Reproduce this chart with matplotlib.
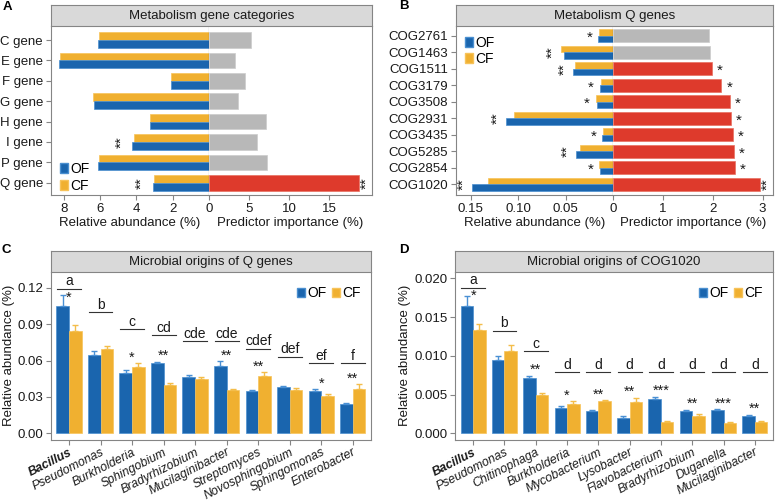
import numpy as np
import matplotlib
matplotlib.use('Agg')
from matplotlib import pyplot as plt
from matplotlib.patches import Patch

plt.rcParams['font.family'] = ['Liberation Sans', 'DejaVu Sans']
plt.rcParams['font.size'] = 9.5

# ---- panel A: metabolism gene categories
a_genes = ['C gene', 'E gene', 'F gene', 'G gene', 'H gene', 'I gene', 'P gene', 'Q gene']
a_of = [6.10, 8.27, 2.08, 6.34, 3.26, 4.22, 6.12, 3.09]
a_cf = [6.04, 8.21, 2.08, 6.41, 3.26, 4.13, 6.06, 3.00]
a_imp = [5.3, 3.3, 4.55, 3.6, 7.1, 6.0, 7.3, 18.7]
a_key = [0, 0, 0, 0, 0, 0, 0, 1]
a_sig_l = ['', '', '', '', '', '**', '', '**']
a_sig_r = ['', '', '', '', '', '', '', '**']

# ---- panel B: metabolism Q genes
b_genes = ['COG2761', 'COG1463', 'COG1511', 'COG3179', 'COG3508',
           'COG2931', 'COG3435', 'COG5285', 'COG2854', 'COG1020']
b_of = [0.0158, 0.0516, 0.0425, 0.0144, 0.0175, 0.1126, 0.0116, 0.0390, 0.0144, 0.1490]
b_cf = [0.0147, 0.0550, 0.0400, 0.0133, 0.0186, 0.1050, 0.0110, 0.0350, 0.0150, 0.1316]
b_imp = [1.93, 1.95, 1.98, 2.17, 2.34, 2.37, 2.40, 2.42, 2.44, 2.94]
b_key = [0, 0, 1, 1, 1, 1, 1, 1, 1, 1]
b_sig_l = ['*', '**', '**', '*', '*', '**', '*', '**', '*', '**']
b_sig_r = ['', '', '*', '*', '*', '*', '*', '*', '*', '**']

# ---- panel C: microbial origins of Q genes
c_taxa = ['Bacillus', 'Pseudomonas', 'Burkholderia', 'Sphingobium', 'Bradyrhizobium',
          'Mucilaginibacter', 'Streptomyces', 'Novosphingobium', 'Sphingomonas', 'Enterobacter']
c_of = [0.1046, 0.0647, 0.0498, 0.0578, 0.0462, 0.0553, 0.0350, 0.0380, 0.0350, 0.0240]
c_of_err = [0.0090, 0.0030, 0.0020, 0.0010, 0.0017, 0.0040, 0.0005, 0.0014, 0.0013, 0.0008]
c_cf = [0.0840, 0.0696, 0.0550, 0.0396, 0.0451, 0.0360, 0.0473, 0.0360, 0.0310, 0.0363]
c_cf_err = [0.0055, 0.0020, 0.0028, 0.0020, 0.0010, 0.0003, 0.0030, 0.0014, 0.0010, 0.0040]
c_letters = ['a', 'b', 'c', 'cd', 'cde', 'cde', 'cdef', 'def', 'ef', 'f']
c_letter_y = [0.119, 0.0999, 0.0859, 0.081, 0.0757, 0.0757, 0.0696, 0.0633, 0.0578, 0.0578]
c_sig = ['*', '', '*', '**', '', '**', '**', '', '*', '**']

# ---- panel D: microbial origins of COG1020
d_taxa = ['Bacillus', 'Pseudomonas', 'Chitinophaga', 'Burkholderia', 'Mycobacterium',
          'Lysobacter', 'Flavobacterium', 'Bradyrhizobium', 'Duganella', 'Mucilaginibacter']
d_of = [0.01643, 0.00946, 0.00710, 0.00327, 0.00284, 0.00194, 0.00443, 0.00292, 0.00297, 0.00220]
d_of_err = [0.00125, 0.0005, 0.0003, 0.00026, 0.00017, 0.0003, 0.00026, 0.00013, 0.00013, 0.0002]
d_cf = [0.01333, 0.01067, 0.00500, 0.00383, 0.00417, 0.00404, 0.00146, 0.00224, 0.00138, 0.00150]
d_cf_err = [0.0008, 0.0007, 0.00025, 0.0003, 0.0001, 0.0005, 0.0001, 0.0002, 0.0001, 0.0001]
d_letters = ['a', 'b', 'c', 'd', 'd', 'd', 'd', 'd', 'd', 'd']
d_letter_y = [0.0188, 0.0132, 0.0106, 0.00787, 0.00787, 0.00787, 0.00787, 0.00787, 0.00787, 0.00787]
d_sig = ['*', '', '**', '*', '**', '**', '***', '**', '***', '**']

OF_C = '#1a65ae'
CF_C = '#f0b030'
OF_E = '#4a8fd0'
CF_E = '#f7c35a'
RED = '#de3a2c'
GREY = '#b8b8b8'
EDGE = '#858585'
STRIP = '#d9d9d9'
TXT = '#1a1a1a'

W, H = 776, 503
fig = plt.figure(figsize=(W / 100, H / 100), dpi=100)


def box(x0, y0, x1, y1):
    return [x0 / W, 1 - y1 / H, (x1 - x0) / W, (y1 - y0) / H]


def strip(x0, x1, y0, y1, title):
    ax = fig.add_axes(box(x0, y0, x1, y1))
    ax.set_facecolor(STRIP)
    ax.set_xticks([])
    ax.set_yticks([])
    for s in ax.spines.values():
        s.set_color(EDGE)
    ax.text(0.5, 0.48, title, ha='center', va='center', transform=ax.transAxes,
            fontsize=9.5, color=TXT)


def style(ax):
    for s in ax.spines.values():
        s.set_color(EDGE)
    ax.tick_params(color=EDGE, labelcolor=TXT, length=3.5, width=0.8, labelsize=9.5, pad=2)


def legend(ax, **kw):
    h = [Patch(facecolor=OF_C, edgecolor=OF_E), Patch(facecolor=CF_C, edgecolor=CF_E)]
    ax.legend(h, ['OF', 'CF'], frameon=False, handlelength=0.58, handleheight=0.7,
              handletextpad=0.15, fontsize=10, borderpad=0.2, **kw)


def butterfly(x0, xz, x1, y0, y1, genes, of, cf, imp, key, lim_l, lim_r,
              ticks_l, ticklab_l, ticks_r, sig_l, sig_r, off_l, off_r, pads, title):
    axl = fig.add_axes(box(x0, y0, xz, y1))
    axr = fig.add_axes(box(xz, y0, x1, y1))
    n = len(genes)
    y = np.arange(n)
    axl.barh(y - 0.19, cf, height=0.38, color=CF_C, edgecolor=CF_E, linewidth=0.5)
    axl.barh(y + 0.19, of, height=0.38, color=OF_C, edgecolor=OF_E, linewidth=0.5)
    axr.barh(y, imp, height=0.77, color=[RED if k else GREY for k in key],
             edgecolor=['#e87060' if k else '#cccccc' for k in key], linewidth=0.5)
    for ax in (axl, axr):
        ax.set_ylim(n - 1 + pads[1], -pads[0])
        style(ax)
    axl.set_xlim(lim_l, 0)
    axr.set_xlim(0, lim_r)
    axl.set_yticks(y)
    axl.set_yticklabels(genes)
    axr.set_yticks([])
    axl.set_xticks(ticks_l)
    axl.set_xticklabels(ticklab_l)
    axr.set_xticks(ticks_r)
    axl.spines['top'].set_visible(False)
    axr.spines['top'].set_visible(False)
    axr.spines['left'].set_visible(False)
    axl.spines['right'].set_color('#333333')
    axl.set_xlabel('Relative abundance (%)', fontsize=9.5, color=TXT, labelpad=2)
    axr.set_xlabel('Predictor importance (%)', fontsize=9.5, color=TXT, labelpad=2)
    for i in range(n):
        m = max(of[i], cf[i])
        if sig_l[i]:
            rot = 90 if len(sig_l[i]) > 1 else 0
            axl.text(m + off_l, i + (0 if rot else 0.15), sig_l[i], rotation=rot,
                     ha='center', va='center', fontsize=11, color=TXT)
        if sig_r[i]:
            rot = 90 if len(sig_r[i]) > 1 else 0
            axr.text(imp[i] + off_r, i + (0 if rot else 0.15), sig_r[i], rotation=rot,
                     ha='center', va='center', fontsize=11, color=TXT)
    strip(x0, x1, y0 - 21, y0, title)
    return axl, axr


def grouped(x0, x1, y0, y1, taxa, of, of_err, cf, cf_err, letters, letter_y, sig,
            ylim, yticks, fmt, title, lab_x):
    ax = fig.add_axes(box(x0, y0, x1, y1))
    n = len(taxa)
    x = np.arange(n)
    z = np.zeros(n)
    ax.bar(x - 0.2, of, 0.4, color=OF_C, edgecolor=OF_E, linewidth=0.5,
           yerr=[z, of_err], error_kw=dict(ecolor='#4a90d4', elinewidth=1, capsize=2.5, capthick=1))
    ax.bar(x + 0.2, cf, 0.4, color=CF_C, edgecolor=CF_E, linewidth=0.5,
           yerr=[z, cf_err], error_kw=dict(ecolor='#f4bd4a', elinewidth=1, capsize=2.5, capthick=1))
    rng = ylim[1] - ylim[0]
    for i in range(n):
        ax.plot([i - 0.38, i + 0.38], [letter_y[i]] * 2, color='#333333', lw=0.8)
        ax.text(i, letter_y[i] + 0.021 * rng, letters[i], ha='center', va='baseline',
                fontsize=10, color=TXT)
        if sig[i]:
            top = max(of[i] + of_err[i], cf[i] + cf_err[i])
            ys = min(top + 0.035 * rng, letter_y[i] - 0.05 * rng)
            ax.text(i, ys, sig[i], ha='center', va='center', fontsize=10.5, color=TXT)
    ax.set_xlim(-0.58, n - 0.43)
    ax.set_ylim(*ylim)
    ax.set_yticks(yticks)
    ax.set_yticklabels([fmt.format(v) for v in yticks])
    ax.set_xticks(x)
    ax.set_xticklabels(taxa, rotation=27, ha='right', rotation_mode='anchor',
                       style='italic', fontsize=8.8)
    ax.get_xticklabels()[0].set_fontweight('bold')
    style(ax)
    ax.tick_params(axis='x', labelsize=8.8, pad=1)
    ax.spines['top'].set_visible(False)
    ax.set_ylabel('Relative abundance (%)', fontsize=9.5, color=TXT)
    ax.yaxis.set_label_coords(lab_x, 0.5)
    legend(ax, loc='upper right', ncol=2, columnspacing=0.4, bbox_to_anchor=(1.0, 0.97))
    strip(x0, x1, y0 - 21, y0, title)
    return ax


axl, axr = butterfly(50.7, 208.7, 372, 26, 195, a_genes, a_of, a_cf, a_imp, a_key,
                     8.73, 20.3, [8, 6, 4, 2, 0], ['8', '6', '4', '2', '0'], [5, 10, 15],
                     a_sig_l, a_sig_r, 0.6, 0.9, (0.69, 0.6), 'Metabolism gene categories')
legend(axl, loc='lower left', bbox_to_anchor=(0.0, -0.045), labelspacing=0.2)

bxl, bxr = butterfly(455.7, 613.3, 773, 26, 195, b_genes, b_of, b_cf, b_imp, b_key,
                     0.166, 3.21, [0.15, 0.10, 0.05, 0], ['0.15', '0.10', '0.05', '0'], [1, 2, 3],
                     b_sig_l, b_sig_r, 0.009, 0.16, (0.59, 0.65), 'Metabolism Q genes')
legend(bxl, loc='upper left', bbox_to_anchor=(0.0, 1.0), labelspacing=0.15)

grouped(50.7, 370.7, 271.7, 440, c_taxa, c_of, c_of_err, c_cf, c_cf_err, c_letters,
        c_letter_y, c_sig, (-0.0055, 0.1332), [0, 0.03, 0.06, 0.09, 0.12], '{:.2f}',
        'Microbial origins of Q genes', -0.113)
grouped(455, 772.7, 271.7, 440, d_taxa, d_of, d_of_err, d_cf, d_cf_err, d_letters,
        d_letter_y, d_sig, (-0.00086, 0.02085), [0, 0.005, 0.010, 0.015, 0.020], '{:.3f}',
        'Microbial origins of COG1020', -0.137)

for lab, px, py in [('A', 3, 1), ('B', 399, 0), ('C', 2, 244), ('D', 399, 244)]:
    fig.text(px / W, 1 - py / H, lab, fontweight='bold', fontsize=9.5, va='top', ha='left')

fig.savefig('out.png', dpi=100)
